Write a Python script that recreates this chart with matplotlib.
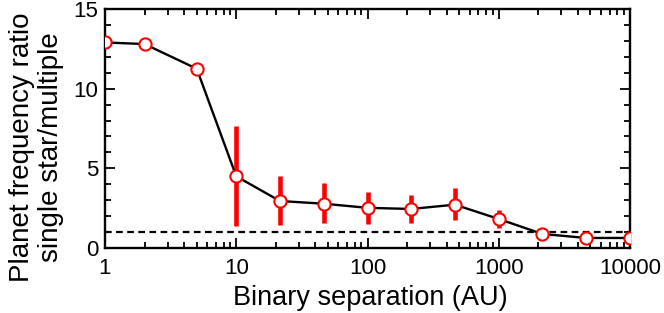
import matplotlib
matplotlib.use("Agg")
import matplotlib.pyplot as plt
from matplotlib.ticker import LogLocator, MultipleLocator, FixedLocator, NullFormatter

plt.rcParams['font.family'] = ['Liberation Sans', 'DejaVu Sans']

sep = [1, 2, 5, 10, 21.5, 46.4, 100, 215, 464, 1000, 2154, 4642, 10000]
ratio = [12.9, 12.8, 11.25, 4.5, 2.95, 2.78, 2.52, 2.45, 2.72, 1.82, 0.88, 0.63, 0.63]
err_lo = [None, None, None, 1.4, 1.45, 1.6, 1.5, 1.57, 1.76, 1.25, None, None, None]
err_hi = [None, None, None, 7.65, 4.5, 4.1, 3.5, 3.3, 3.75, 2.4, None, None, None]
xticks = [1, 10, 100, 1000, 10000]
xticklabels = ['1', '10', '100', '1000', '10000']
yticks = [0, 5, 10, 15]

fig = plt.figure(figsize=(6.64, 3.13), dpi=100)
ax = fig.add_axes([105/664, 1-248/313, (630-105)/664, (248-9)/313])

ax.axhline(1, color='black', linestyle=(0, (3, 2)), linewidth=1.6, zorder=1)
for x, lo, hi in zip(sep, err_lo, err_hi):
    if lo is not None:
        ax.vlines(x, lo, hi, color='red', linewidth=3.3, zorder=2)
ax.plot(sep, ratio, color='black', linewidth=1.7, zorder=3,
        marker='o', markersize=8.8, markerfacecolor='white',
        markeredgecolor='red', markeredgewidth=1.5)

ax.set_xscale('log')
ax.set_xlim(1, 10000)
ax.set_ylim(0, 15)
ax.xaxis.set_major_locator(FixedLocator(xticks))
ax.set_xticklabels(xticklabels)
ax.xaxis.set_minor_locator(LogLocator(base=10, subs=range(2, 10)))
ax.xaxis.set_minor_formatter(NullFormatter())
ax.yaxis.set_major_locator(FixedLocator(yticks))
ax.yaxis.set_minor_locator(MultipleLocator(1))

ax.tick_params(which='both', direction='in', top=True, right=True, labelsize=16, width=1.3)
ax.tick_params(axis='x', pad=7)
ax.tick_params(axis='y', pad=5)
ax.tick_params(which='major', length=7)
ax.tick_params(which='minor', length=4)
for s in ax.spines.values():
    s.set_linewidth(1.7)

ax.set_xlabel('Binary separation (AU)', fontsize=19.5)
ax.xaxis.set_label_coords(0.505, -0.155)
ax.set_ylabel('Planet frequency ratio\nsingle star/multiple', fontsize=20, linespacing=1.15)
ax.yaxis.set_label_coords(-0.078, 0.42)

fig.savefig('out.png', dpi=100)
